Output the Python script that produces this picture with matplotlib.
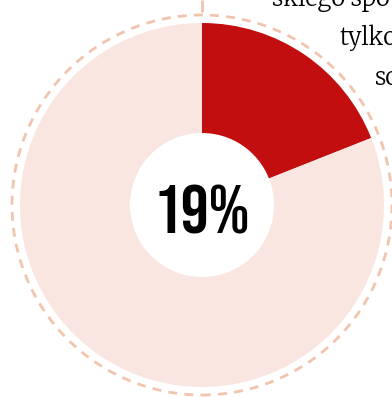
import matplotlib.pyplot as plt
from matplotlib.patches import Circle

# -----------------------------
# Data
# -----------------------------
share = 19
values = [share, 100 - share]
colors = ["#C20E0E", "#F9E6E0"]
label = f"{share}%"
text_lines = ["skiego spo", "tylko", "so"]

W, H = 392, 397
fig = plt.figure(figsize=(W / 100, H / 100), dpi=100)
ax = fig.add_axes([0, 0, 1, 1])

cx, cy = 202, H - 205
r_out, r_in, r_ring = 182, 72, 190

ax.pie(values, colors=colors, center=(cx, cy), radius=r_out,
       startangle=90, counterclock=False,
       wedgeprops=dict(width=r_out - r_in, linewidth=0))

# dashed outline ring
ring = Circle((cx, cy), r_ring, fill=False, edgecolor="#F2C4AE",
              linewidth=2.0, linestyle=(0, (3.2, 2.6)))
ax.add_patch(ring)
ax.plot([cx, cx], [H, H - 12], color="#F2C4AE", linewidth=2.0,
        solid_capstyle="butt")

ax.text(cx, H - 233, label, ha="center", va="baseline", fontsize=50,
        family=["Bebas Neue", "DejaVu Sans"], color="black")

# clipped caption on the right
xs = [272, 340, 375]
ys = [6, 45, 85]
for t, x, y in zip(text_lines, xs, ys):
    ax.text(x, H - y, t, ha="left", va="baseline", fontsize=17,
            family=["Merriweather", "DejaVu Serif"], color="black")

ax.set_xlim(0, W)
ax.set_ylim(0, H)
ax.set_aspect("auto")
ax.axis("off")

plt.savefig("out.png", dpi=100)
plt.close()
